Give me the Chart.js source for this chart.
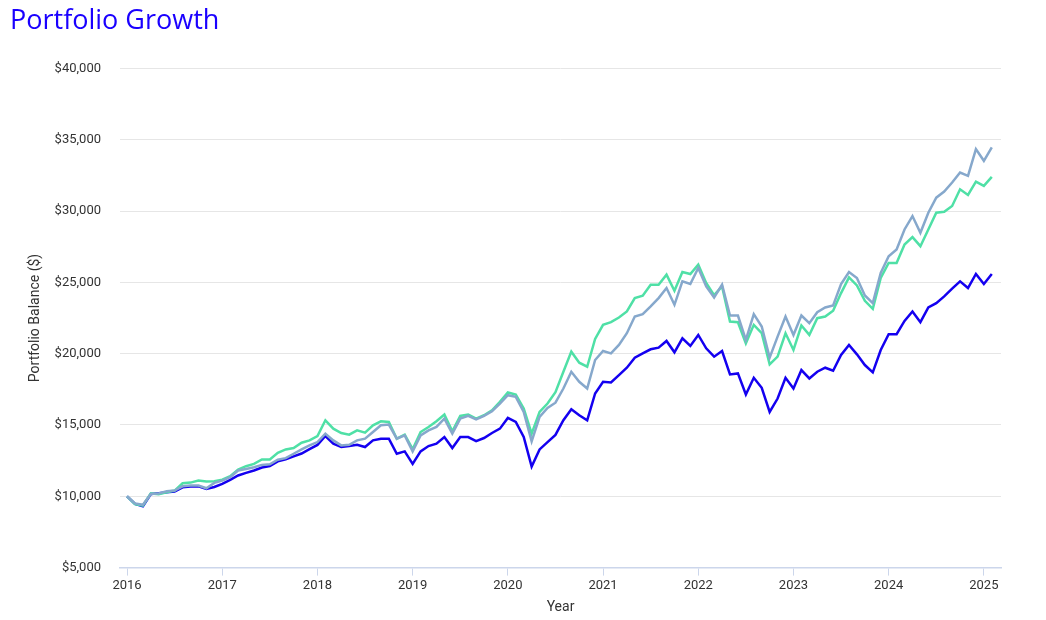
<!DOCTYPE html>
<html>
<head>
<meta charset="utf-8">
<script src="https://cdn.jsdelivr.net/npm/chart.js@4.4.1/dist/chart.umd.min.js"></script>
<style>
  html, body { margin: 0; padding: 0; background: #ffffff; }
  #wrap { position: relative; width: 1046px; height: 620px; }
</style>
</head>
<body>
<div id="wrap"><canvas id="c" width="1046" height="620"></canvas></div>
<script>
// ---- Data (monthly, Jan 2016 .. Feb 2025) ----
const startYear = 2016;
const yearTicks = [2016, 2017, 2018, 2019, 2020, 2021, 2022, 2023, 2024, 2025];

const seriesBlue = [
  10000, 9460, 9300, 10160, 10210, 10280, 10330, 10630, 10680, 10700, 10510, 10650,
  10870, 11150, 11460, 11640, 11810, 12020, 12120, 12450, 12600, 12800, 13000, 13300,
  13600, 14225, 13685, 13451, 13521, 13615, 13451, 13920, 14037, 14037, 12981, 13146,
  12277, 13146, 13521, 13685, 14155, 13380, 14155, 14155, 13873, 14084, 14437, 14742,
  15493, 15211, 14155, 12089, 13286, 13803, 14300, 15329, 16103, 15681, 15329, 17206,
  18028, 17981, 18497, 19014, 19718, 20023, 20305, 20422, 20892, 20093, 21079, 20540,
  21314, 20375, 19789, 20188, 18544, 18615, 17136, 18310, 17605, 15915, 16854, 18310,
  17558, 18850, 18263, 18732, 19014, 18803, 19906, 20610, 19950, 19202, 18685, 20258,
  21361, 21361, 22300, 22957, 22206, 23239, 23544, 24014, 24554, 25070, 24600, 25586,
  24882, 25586
];

const seriesGreen = [
  10000, 9460, 9350, 10200, 10150, 10280, 10400, 10915, 10960, 11100, 11030, 11050,
  11170, 11410, 11880, 12110, 12270, 12580, 12580, 13050, 13286, 13380, 13756, 13920,
  14225, 15329, 14742, 14437, 14319, 14624, 14460, 14977, 15258, 15211, 14037, 14319,
  13300, 14507, 14859, 15258, 15728, 14554, 15634, 15728, 15446, 15681, 16033, 16620,
  17277, 17136, 16150, 14389, 15915, 16502, 17300, 18732, 20140, 19366, 19084, 21033,
  22018, 22206, 22535, 22957, 23896, 24061, 24835, 24835, 25540, 24413, 25727, 25586,
  26244, 24952, 24100, 24718, 22253, 22206, 20727, 22018, 21431, 19249, 19789, 21431,
  20258, 21971, 21314, 22488, 22605, 23005, 24248, 25352, 24780, 23709, 23145, 25305,
  26361, 26361, 27652, 28168, 27535, 28709, 29882, 29952, 30351, 31525, 31126, 32065,
  31760, 32394
];

const seriesGrey = [
  10000, 9500, 9400, 10160, 10200, 10350, 10400, 10700, 10750, 10750, 10560, 10940,
  11100, 11340, 11810, 11920, 12040, 12200, 12240, 12560, 12676, 12981, 13286, 13568,
  13803, 14389, 13920, 13568, 13615, 13920, 14037, 14507, 14977, 15024, 14037, 14272,
  13150, 14272, 14624, 14859, 15446, 14389, 15446, 15634, 15399, 15634, 15962, 16502,
  17089, 16972, 15915, 13850, 15563, 16197, 16560, 17558, 18732, 18028, 17558, 19554,
  20188, 20023, 20610, 21431, 22605, 22770, 23310, 23896, 24600, 23427, 25070, 24882,
  26009, 24718, 23943, 24835, 22676, 22676, 20962, 22770, 21901, 19718, 21197, 22605,
  21314, 22676, 22136, 22910, 23239, 23380, 24882, 25727, 25305, 24084, 23544, 25657,
  26831, 27300, 28709, 29647, 28474, 29882, 30938, 31361, 31995, 32699, 32464, 34343,
  33520, 34460
];

const monthPositions = seriesBlue.map((_, i) => startYear + i / 12);
const toPoints = arr => arr.map((v, i) => ({ x: monthPositions[i], y: v }));

const FONT = "Roboto, 'Liberation Sans', sans-serif";
const TEXT = '#333333';

new Chart(document.getElementById('c'), {
  type: 'line',
  data: {
    datasets: [
      { label: 'Portfolio 3', data: toPoints(seriesGrey), borderColor: '#86a8cc', order: 0 },
      { label: 'Portfolio 2', data: toPoints(seriesGreen), borderColor: '#4fe0a6', order: 1 },
      { label: 'Portfolio 1', data: toPoints(seriesBlue), borderColor: '#1400f0', order: 2 }
    ]
  },
  options: {
    responsive: false,
    animation: false,
    layout: { padding: { left: 10, right: 45, top: 5, bottom: 4 } },
    elements: {
      line: { borderWidth: 2.5, tension: 0, fill: false },
      point: { radius: 0, hoverRadius: 0 }
    },
    plugins: {
      legend: { display: false },
      tooltip: { enabled: false },
      title: {
        display: true,
        text: 'Portfolio Growth',
        align: 'start',
        color: '#1a00ff',
        font: { family: "'Open Sans', sans-serif", size: 27, weight: '500' },
        padding: { top: 0, bottom: 31 }
      }
    },
    scales: {
      x: {
        type: 'linear',
        min: 2015.926,
        max: 2025.18,
        afterBuildTicks: s => { s.ticks = yearTicks.map(v => ({ value: v })); },
        ticks: {
          callback: v => String(v),
          color: TEXT,
          font: { family: FONT, size: 13 },
          padding: 2,
          maxRotation: 0,
          autoSkip: false
        },
        grid: { drawOnChartArea: false, drawTicks: true, tickLength: 8, color: '#ccd6eb' },
        border: { display: true, color: '#ccd6eb', width: 1.5 },
        title: {
          display: true,
          text: 'Year',
          color: TEXT,
          font: { family: FONT, size: 14 },
          padding: { top: 4, bottom: 0 }
        }
      },
      y: {
        min: 5000,
        max: 40000,
        afterFit: s => { s.width = 110; },
        ticks: {
          stepSize: 5000,
          callback: v => '$' + Number(v).toLocaleString('en-US'),
          color: TEXT,
          font: { family: FONT, size: 13 },
          padding: 19
        },
        grid: { color: '#e6e6e6', drawTicks: false, lineWidth: 1 },
        border: { display: false },
        title: {
          display: true,
          text: 'Portfolio Balance ($)',
          color: TEXT,
          font: { family: FONT, size: 14 },
          padding: { top: 17, bottom: 4 }
        }
      }
    }
  }
});
</script>
</body>
</html>
